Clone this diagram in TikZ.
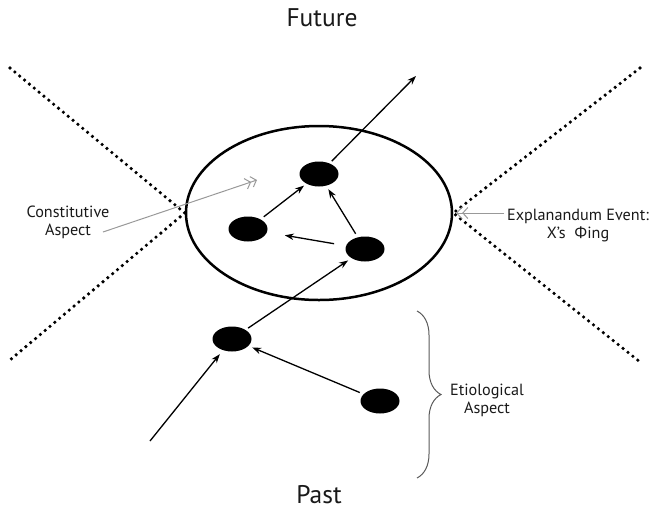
\documentclass[tikz,border=0pt]{standalone}
\usepackage{fontspec}
\setmainfont{PT Sans}
\newfontfamily\grk{Open Sans}
\usetikzlibrary{shapes.geometric,arrows.meta,decorations.pathreplacing}
\begin{document}
\begin{tikzpicture}[x=1pt,y=-1pt,
  dot/.style={ellipse,fill=black,minimum width=39pt,minimum height=25pt,inner sep=0pt},
  arr/.style={line width=1.3pt,-{Stealth[length=9pt,width=6.5pt]}},
  dotline/.style={line width=3.6pt,line cap=round,dash pattern=on 0pt off 6.3pt},
  grayarr/.style={gray!80,line width=1pt,-{Straight Barb[length=5pt,width=11pt]Straight Barb[length=5pt,width=11pt]}},
  lbl/.style={font=\fontsize{16.2}{18}\selectfont,align=center,text=black!90,inner sep=0pt}]
\useasboundingbox (0,0) rectangle (650,512);
% big ellipse
\node[ellipse,draw,line width=2.5pt,minimum width=266pt,minimum height=174pt] (ev) at (319,213) {};
% dotted lines
\coordinate (ul) at (10,68);
\coordinate (ll) at (10,360);
\coordinate (ur) at (640,68);
\coordinate (lr) at (640,362);
\draw[dotline] (ul) -- (ev.west) -- (ll);
\draw[dotline] (ur) -- (ev.east) -- (lr);
% dots
\node[dot] (A) at (319,174) {};
\node[dot] (B) at (248,229) {};
\node[dot] (C) at (365,249) {};
\node[dot] (D) at (232,339) {};
\node[dot] (E) at (380,401) {};
\coordinate (F) at (416,76);
\coordinate (P0) at (150,441);
% arrows
\draw[arr,shorten <=3pt] (A) -- (F);
\draw[arr,shorten <=4pt,shorten >=3pt] (B) -- (A);
\draw[arr,shorten <=4pt,shorten >=4pt] (C) -- (A);
\draw[arr,shorten <=12pt,shorten >=18pt] (C) -- (B);
\draw[arr,shorten <=3pt,shorten >=4pt] (D) -- (C);
\draw[arr,shorten <=4pt,shorten >=4pt] (E) -- (D);
\draw[arr,shorten >=5pt] (P0) -- (D);
% titles
\node[font=\fontsize{25.5}{28}\selectfont,text=black!90] (fut) at (322,18) {Future};
\node[font=\fontsize{25.5}{28}\selectfont,text=black!90] (past) at (319,495) {Past};
% labels
\node[lbl] (const) at (68,222) {Constitutive\\Aspect};
\node[lbl] (expl) at (578,226) {Explanandum Event:\\X’s\ \ {\grk Φ}ing};
\node[lbl] (etio) at (487,400) {Etiological\\Aspect};
\coordinate (cs) at (103,232);
\coordinate (ce) at (257,180);
\draw[grayarr] (cs) -- (ce);
\coordinate (es) at (504,213);
\coordinate (ee) at (456,213);
\draw[grayarr] (es) -- (ee);
% brace
\coordinate (bt) at (417,311);
\coordinate (bb) at (417,478);
\draw[gray!70!black,line width=1pt,decorate,decoration={brace,amplitude=24pt,aspect=0.5}] (bt) -- (bb);
\end{tikzpicture}
\end{document}
